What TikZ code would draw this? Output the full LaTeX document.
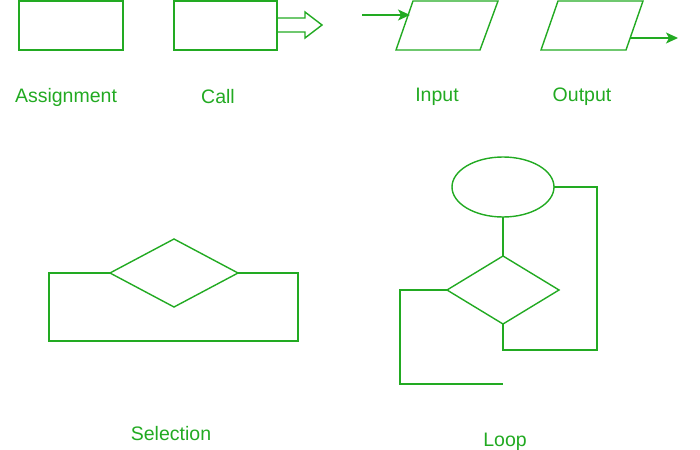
\documentclass[tikz,border=0pt]{standalone}
\usepackage{fontspec}
\setmainfont{Liberation Sans}
\usetikzlibrary{arrows.meta,shapes.geometric}
\definecolor{gg}{RGB}{34,170,34}
\begin{document}
\begin{tikzpicture}[x=1pt,y=-1pt,line width=1.4pt,draw=gg,
  lbl/.style={text=gg,font=\fontsize{19.5}{22}\selectfont},
  arr/.style={-{Stealth[length=12pt,width=11pt,inset=3pt]},fill=gg}]
\useasboundingbox (0,0) rectangle (700,449);
% Assignment
\draw (19,1) rectangle (123,50);
\node[lbl] (la) at (66,97) {Assignment};
% Call
\draw (174,1) rectangle (277,50);
\draw (277,18) -- (305,18) -- (305,12) -- (322,25) -- (305,38) -- (305,32) -- (277,32);
\node[lbl] (lc) at (218,97) {Call};
% Input
\draw (396,50) -- (413,1) -- (498,1) -- (480,50) -- cycle;
\coordinate (i0) at (362,15); \coordinate (i1) at (410,15);
\draw[arr] (i0) -- (i1);
\node[lbl] (li) at (437,97) {Input};
% Output
\draw (541,50) -- (558,1) -- (643,1) -- (626,50) -- cycle;
\coordinate (o0) at (630,38); \coordinate (o1) at (678,38);
\draw[arr] (o0) -- (o1);
\node[lbl] (lo) at (582,97) {Output};
% Selection
\draw (110,273) -- (174,239) -- (238,273) -- (174,307) -- cycle;
\draw (110,273) -- (49,273) -- (49,341) -- (298,341) -- (298,273) -- (238,273);
\node[lbl] (ls) at (171,434) {Selection};
% Loop
\draw (503,187) ellipse [x radius=51, y radius=30];
\draw (503,217) -- (503,256);
\draw (447,290) -- (503,256) -- (559,290) -- (503,324) -- cycle;
\draw (554,187) -- (597,187) -- (597,350) -- (503,350) -- (503,324);
\draw (447,290) -- (400,290) -- (400,384) -- (503,384);
\node[lbl] (ll) at (505,442) {Loop};
\end{tikzpicture}
\end{document}
